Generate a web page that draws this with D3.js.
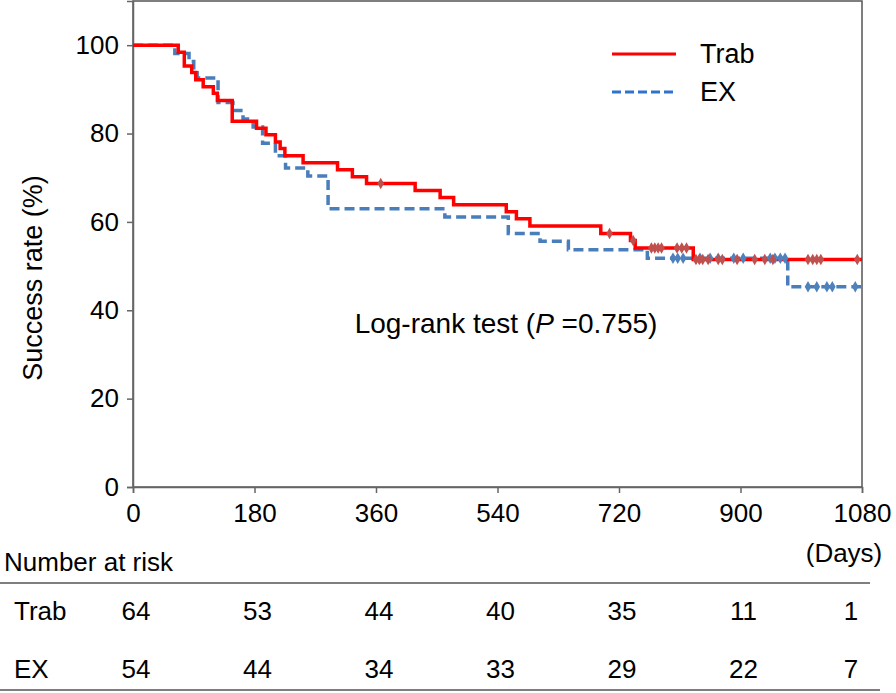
<!DOCTYPE html>
<html><head><meta charset="utf-8">
<script src="https://cdn.jsdelivr.net/npm/d3@7"></script>
<style>
body{margin:0;background:#fff}
svg{display:block}
text{font-family:"Liberation Sans",Arial,Helvetica,sans-serif;fill:#000}
</style>
</head><body>
<svg id="c" width="896" height="693"></svg>
<script>
// ---- data ----
const trabTimes = [0, 67, 76, 87, 93, 104, 119, 125, 147, 183, 197, 211, 218, 225, 252, 303, 325, 346, 418, 455, 475, 553, 568, 588, 693, 737, 744, 830, 1080];
const trabSurv  = [100, 98.4, 95.3, 93.8, 92.2, 90.6, 89.1, 87.5, 82.8, 81.2, 79.7, 78.1, 76.6, 75.0, 73.4, 71.8, 70.2, 68.7, 67.1, 65.5, 63.9, 62.3, 60.7, 59.1, 57.4, 55.8, 54.1, 51.5, 51.5];
const trabCensor = [367, 706, 741, 768, 773, 778, 783, 806, 813, 820, 834, 839, 844, 852, 867, 873, 895, 921, 936, 948, 1000, 1007, 1013, 1019, 1073];

const exTimes = [0, 62, 83, 90, 95, 126, 148, 163, 178, 192, 211, 226, 259, 289, 462, 556, 603, 645, 762, 970, 1080];
const exSurv  = [100, 98.1, 96.3, 94.4, 92.6, 87.0, 85.2, 83.3, 81.5, 77.8, 75.0, 72.2, 70.4, 63.0, 61.1, 57.4, 55.6, 53.7, 51.8, 45.3, 45.3];
const exCensor = [800, 807, 815, 840, 855, 867, 890, 904, 944, 951, 959, 966, 1000, 1013, 1028, 1036, 1070];

const xTicks = [0, 180, 360, 540, 720, 900, 1080];
const yTicks = [0, 20, 40, 60, 80, 100];
const riskGroups = ["Trab", "EX"];
const trabRisk = [64, 53, 44, 40, 35, 11, 1];
const exRisk   = [54, 44, 34, 33, 29, 22, 7];

// ---- layout ----
const svg = d3.select("#c");
const L = 133, R = 862, T = 1, B = 487;
const x = d3.scaleLinear().domain([0, 1080]).range([L, R]);
const y = d3.scaleLinear().domain([0, 110]).range([B, T]);
const axisCol = "#666";
const redCol = "#ff0000", blueCol = "#4a7ebb";
const FONT = "Liberation Sans, Arial, sans-serif";

// frame
svg.append("rect").attr("x", L).attr("y", T).attr("width", R - L).attr("height", B - T)
  .attr("fill", "none").attr("stroke", "#555").attr("stroke-width", 1.5);

// y axis
const yAxis = d3.axisLeft(y).tickValues(yTicks).tickSize(6).tickPadding(8).tickFormat(d3.format("d"));
const gy = svg.append("g").attr("transform", `translate(${L},0)`).call(yAxis);
gy.select(".domain").attr("stroke", axisCol).attr("stroke-width", 1.5);
gy.selectAll(".tick line").attr("stroke", axisCol).attr("stroke-width", 1.5);
gy.selectAll(".tick text").attr("font-size", 26).attr("font-family", FONT).attr("fill", "#000");

// x axis
const xAxis = d3.axisBottom(x).tickValues(xTicks).tickSize(6).tickPadding(11).tickFormat(d3.format("d"));
const gx = svg.append("g").attr("transform", `translate(0,${B})`).call(xAxis);
gx.select(".domain").attr("stroke", axisCol).attr("stroke-width", 1.5);
gx.selectAll(".tick line").attr("stroke", axisCol).attr("stroke-width", 1.5);
gx.selectAll(".tick text").attr("font-size", 26).attr("font-family", FONT).attr("fill", "#000");

// y title
svg.append("text").attr("transform", `translate(42,${278}) rotate(-90)`)
  .attr("text-anchor", "middle").attr("font-size", 27).text("Success rate (%)");

// (Days)
svg.append("text").attr("x", x(1080) - 18).attr("y", 562).attr("text-anchor", "middle")
  .attr("font-size", 26).text("(Days)");

// curves
const line = d3.line().x(d => x(d[0])).y(d => y(d[1])).curve(d3.curveStepAfter);
const trabData = trabTimes.map((t, i) => [t, trabSurv[i]]);
const exData = exTimes.map((t, i) => [t, exSurv[i]]);
function survAt(times, surv, t) { const i = d3.bisectRight(times, t) - 1; return surv[Math.max(0, i)]; }

svg.append("path").attr("d", line(exData)).attr("fill", "none").attr("stroke", blueCol)
  .attr("stroke-width", 3.5).attr("stroke-dasharray", "10,5");
svg.append("path").attr("d", line(trabData)).attr("fill", "none").attr("stroke", redCol)
  .attr("stroke-width", 3.5);

const sym = d3.symbol().type(d3.symbolDiamond).size(38);
svg.append("g").selectAll("path").data(exCensor).join("path")
  .attr("transform", d => `translate(${x(d)},${y(survAt(exTimes, exSurv, d))})`)
  .attr("d", sym).attr("fill", "#4f81bd");
svg.append("g").selectAll("path").data(trabCensor).join("path")
  .attr("transform", d => `translate(${x(d)},${y(survAt(trabTimes, trabSurv, d))})`)
  .attr("d", sym).attr("fill", "#c0504d");

// legend
svg.append("line").attr("x1", 612).attr("x2", 676).attr("y1", 54).attr("y2", 54)
  .attr("stroke", redCol).attr("stroke-width", 3);
svg.append("text").attr("x", 700).attr("y", 63).attr("font-size", 27).text("Trab");
svg.append("line").attr("x1", 612).attr("x2", 676).attr("y1", 92).attr("y2", 92)
  .attr("stroke", "#2e75c9").attr("stroke-width", 3).attr("stroke-dasharray", "9,4");
svg.append("text").attr("x", 700).attr("y", 101).attr("font-size", 27).text("EX");

// annotation
const ann = svg.append("text").attr("x", 506).attr("y", 333).attr("text-anchor", "middle").attr("font-size", 28);
ann.append("tspan").text("Log-rank test (");
ann.append("tspan").attr("font-style", "italic").text("P");
ann.append("tspan").text(" =0.755)");

// risk table
svg.append("text").attr("x", 4).attr("y", 571).attr("font-size", 26).text("Number at risk");
svg.append("line").attr("x1", 0).attr("x2", 870).attr("y1", 583).attr("y2", 583).attr("stroke", "#555").attr("stroke-width", 1.5);
svg.append("line").attr("x1", 0).attr("x2", 880).attr("y1", 690).attr("y2", 690).attr("stroke", "#555").attr("stroke-width", 1.5);
const rows = [trabRisk, exRisk];
const rowY = [620, 678];
rows.forEach((vals, r) => {
  svg.append("text").attr("x", 14).attr("y", rowY[r]).attr("font-size", 26).text(riskGroups[r]);
  svg.append("g").selectAll("text").data(vals).join("text")
    .attr("x", (d, i) => Math.min(x(xTicks[i]) + 3, x(1080) - 11))
    .attr("y", rowY[r]).attr("text-anchor", "middle").attr("font-size", 26).text(d => d);
});
</script>
</body></html>
